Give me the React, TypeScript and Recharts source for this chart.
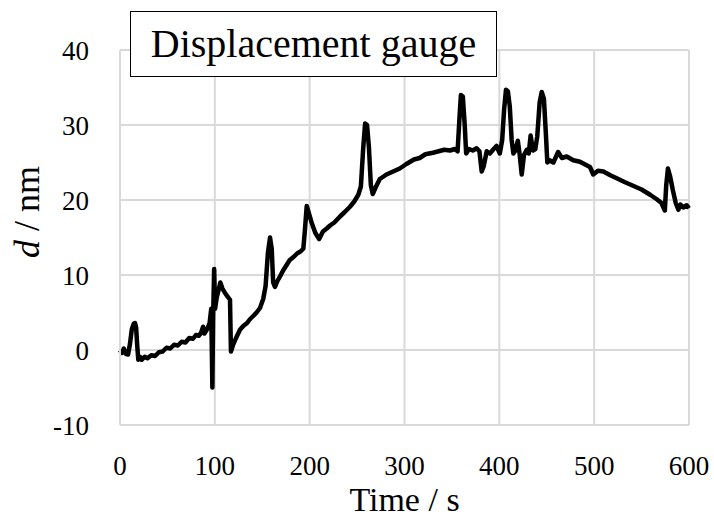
import { LineChart, Line, XAxis, YAxis, CartesianGrid, Label } from 'recharts';

// time (s) and displacement (nm)
const TIME = [
  0, 2, 4, 6, 8.5, 10.5, 12.5, 14.5, 15.8, 17, 18.2, 19.3, 21, 23, 26, 29, 33, 37, 41, 45,
  49, 53, 57, 61, 65, 69, 73, 77, 80, 83, 85.5, 87.6, 89, 92, 94.5, 96.2, 97.4, 98.2, 99.3, 100.3,
  102, 104, 105.8, 108, 110.7, 113, 116, 117, 119, 122, 126.5, 130, 134, 137, 141, 144, 147.6, 151, 153.5, 156,
  158.2, 160, 161.5, 163.4, 166, 168.7, 172, 176, 179, 183, 187, 190, 193.3, 195, 196.9, 199, 202, 206, 210, 214,
  218, 221.5, 226, 232, 237, 242.5, 247, 251.3, 254, 256.5, 258.5, 260.5, 262.5, 264.5, 266.5, 270, 274, 281, 288, 295,
  302, 310, 316, 322, 330, 336, 342, 348, 353, 356, 358, 359.5, 361.5, 363.5, 365, 368, 372, 376, 379, 381.4,
  383.5, 386.7, 390, 394, 397, 400.5, 403, 405, 407, 409, 411, 413, 414.8, 417, 419.5, 421.5, 423.6, 426, 428.9, 431,
  433, 435.5, 438, 440, 442.5, 444.7, 447, 449, 450.6, 453, 457, 462, 466, 471, 478, 485, 491, 495.6, 499, 504,
  509.7, 517, 523.8, 532, 541, 550, 559, 566, 571, 574.5, 576, 577.8, 580, 583, 586, 588.8, 591, 594, 597.6, 600,
];
const DISP = [
  0, -0.4, 0.2, -0.5, -0.6, 0.8, 2.8, 3.5, 3.6, 3.0, 0.5, -1.3, -0.9, -1.3, -0.9, -1.1, -0.7, -0.8, -0.3, -0.2,
  0.3, 0.2, 0.7, 0.6, 1.1, 1.0, 1.6, 1.5, 2.0, 1.9, 2.3, 3.1, 2.2, 2.8, 3.6, 5.5, -5, 4.5, 10.8, 5.5,
  7, 8, 9, 8.2, 7.6, 7.2, 6.7, -0.2, 0.6, 1.5, 2.7, 3.2, 3.6, 4.1, 4.6, 5.0, 5.6, 6.8, 8.5, 13,
  15, 13.5, 9, 8.4, 9.2, 9.8, 10.6, 11.4, 12, 12.4, 12.9, 13.1, 13.5, 16, 19.2, 18.3, 17, 15.6, 14.8, 15.8,
  16.2, 16.6, 17.0, 17.8, 18.4, 19.1, 19.8, 20.7, 21.8, 27, 30.2, 30, 27, 22, 20.8, 21.8, 22.8, 23.4, 23.8, 24.2,
  24.8, 25.4, 25.6, 26.1, 26.3, 26.5, 26.7, 26.6, 26.8, 26.5, 31, 34.0, 33.8, 30, 26.2, 26.8, 26.6, 26.9, 26.5, 23.8,
  24.5, 26.5, 26.2, 26.8, 27.2, 26.2, 28, 32, 34.7, 34.5, 32.5, 28, 26.2, 26.6, 27.9, 26, 23.4, 26, 26.7, 26.2,
  28.6, 26.6, 26.8, 28.5, 33, 34.4, 33.5, 29, 25, 25.3, 25.0, 26.4, 25.6, 25.8, 25.3, 25.1, 24.7, 24.4, 23.4, 23.9,
  23.8, 23.3, 22.9, 22.4, 21.9, 21.4, 20.7, 20.1, 19.6, 18.6, 22, 24.2, 23.2, 21.3, 19.6, 18.7, 19.4, 19, 19.3, 18.9,
];
const X_TICKS = [0, 100, 200, 300, 400, 500, 600];
const Y_TICKS = [-10, 0, 10, 20, 30, 40];

const data = TIME.map((t, i) => ({ t, d: DISP[i] }));

const FONT = '"Liberation Serif", "Times New Roman", serif';
const GRID = '#d9d9d9';

const XTitle = (props: any) => {
  const { x, y, width } = props.viewBox;
  return (
    <text x={x + width / 2} y={y + 86} textAnchor="middle" fontFamily={FONT} fontSize={34} fill="#000">
      Time / s
    </text>
  );
};

const YTitle = () => {
  const cx = 39;
  const cy = 212;
  return (
    <text
      x={cx}
      y={cy}
      transform={`rotate(-90, ${cx}, ${cy})`}
      textAnchor="middle"
      fontFamily={FONT}
      fontSize={36}
      fill="#000"
    >
      <tspan fontStyle="italic">d</tspan>
      <tspan> / nm</tspan>
    </text>
  );
};

export default function App() {
  const tick = { fontFamily: FONT, fontSize: 27, fill: '#000' };
  return (
    <div style={{ position: 'absolute', left: 0, top: 0, width: 714, height: 523, background: '#fff' }}>
      <LineChart width={714} height={523} data={data} margin={{ top: 50, right: 25, bottom: 0, left: 0 }}>
        <CartesianGrid stroke={GRID} strokeWidth={2} />
        <XAxis
          dataKey="t"
          type="number"
          domain={[0, 600]}
          ticks={X_TICKS}
          height={98}
          tick={tick}
          tickLine={false}
          tickSize={6}
          tickMargin={25}
          axisLine={{ stroke: GRID, strokeWidth: 2 }}
        >
          <Label content={<XTitle />} />
        </XAxis>
        <YAxis
          type="number"
          domain={[-10, 40]}
          ticks={Y_TICKS}
          width={120}
          tick={tick}
          tickLine={false}
          tickSize={6}
          tickMargin={25}
          axisLine={{ stroke: GRID, strokeWidth: 2 }}
        >
          <Label content={<YTitle />} />
        </YAxis>
        <Line
          dataKey="d"
          type="linear"
          stroke="#000"
          strokeWidth={4.5}
          strokeLinejoin="round"
          dot={false}
          isAnimationActive={false}
        />
      </LineChart>
      <div
        style={{
          position: 'absolute',
          left: 130,
          top: 11,
          width: 367,
          height: 66,
          boxSizing: 'border-box',
          border: '1.5px solid #000',
          background: '#fff',
          fontFamily: FONT,
          fontSize: 40,
          lineHeight: '63px',
          textAlign: 'center',
          whiteSpace: 'nowrap',
        }}
      >
        Displacement gauge
      </div>
    </div>
  );
}
